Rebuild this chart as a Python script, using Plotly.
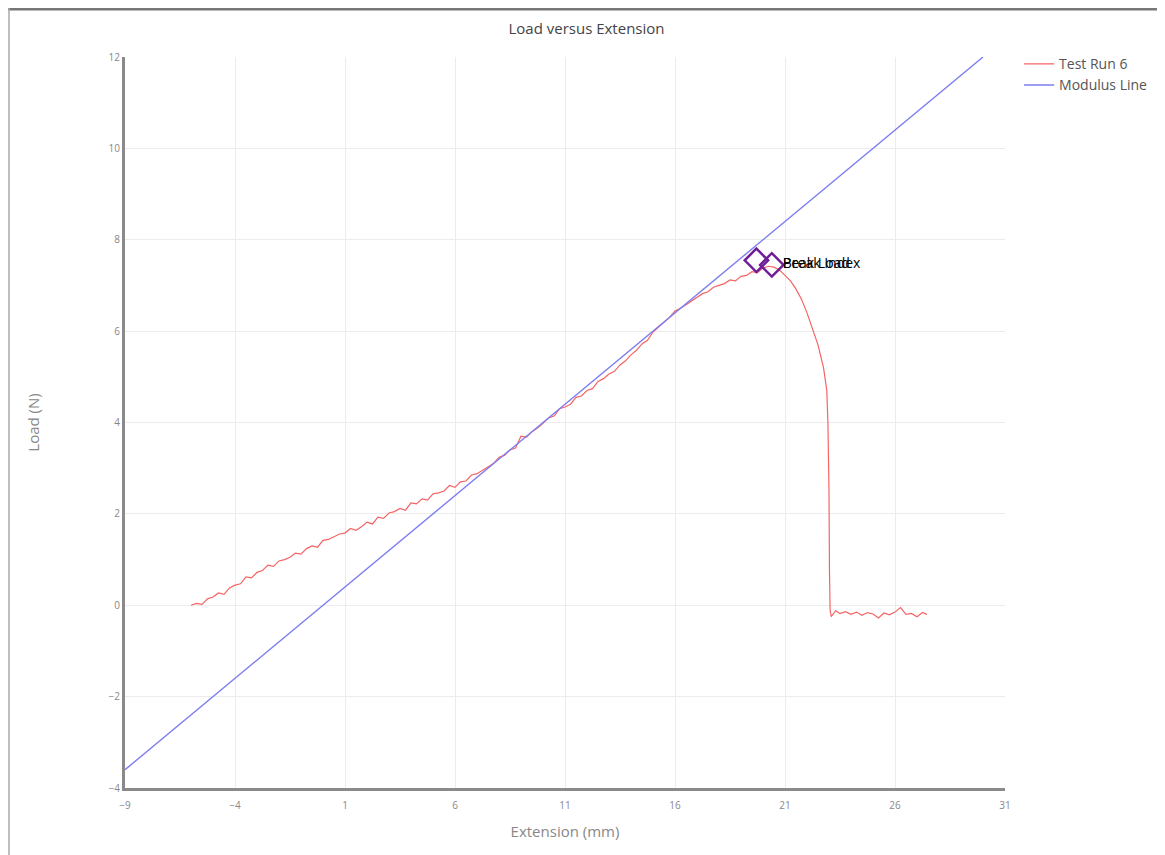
import plotly.graph_objects as go

# ---------------- data ----------------
run_x = [-6.0, -5.75, -5.5, -5.25, -5.0, -4.75, -4.5, -4.25, -4.0, -3.75, -3.5, -3.25,
         -3.0, -2.75, -2.5, -2.25, -2.0, -1.75, -1.5, -1.25, -1.0, -0.75, -0.5, -0.25,
         0.0, 0.25, 0.5, 0.75, 1.0, 1.25, 1.5, 1.75, 2.0, 2.25, 2.5, 2.75,
         3.0, 3.25, 3.5, 3.75, 4.0, 4.25, 4.5, 4.75, 5.0, 5.25, 5.5, 5.75,
         6.0, 6.25, 6.5, 6.75, 7.0, 7.25, 7.5, 7.75, 8.0, 8.25, 8.5, 8.75,
         9.0, 9.25, 9.5, 9.75, 10.0, 10.25, 10.5, 10.75, 11.0, 11.25, 11.5, 11.75,
         12.0, 12.25, 12.5, 12.75, 13.0, 13.25, 13.5, 13.75, 14.0, 14.25, 14.5, 14.75,
         15.0, 15.25, 15.5, 15.75, 16.0, 16.25, 16.5, 16.75, 17.0, 17.25, 17.5, 17.75,
         18.0, 18.25, 18.5, 18.75, 19.0, 19.25, 19.5, 19.75, 20.0, 20.25, 20.5, 20.75,
         21.0, 21.25, 21.5, 21.75, 22.0, 22.25, 22.5, 22.75, 22.9, 22.95, 23.0, 23.02,
         23.05, 23.1, 23.3, 23.5, 23.75, 24.0, 24.25, 24.5, 24.75, 25.0, 25.25, 25.5,
         25.75, 26.0, 26.25, 26.5, 26.75, 27.0, 27.25, 27.45]
run_y = [0.00, 0.04, 0.02, 0.14, 0.18, 0.27, 0.24, 0.38, 0.44, 0.47, 0.62, 0.60,
         0.72, 0.76, 0.88, 0.85, 0.97, 1.00, 1.05, 1.14, 1.12, 1.24, 1.30, 1.27,
         1.42, 1.44, 1.50, 1.56, 1.58, 1.68, 1.64, 1.72, 1.82, 1.78, 1.93, 1.90,
         2.02, 2.05, 2.12, 2.08, 2.24, 2.22, 2.33, 2.30, 2.44, 2.46, 2.50, 2.62,
         2.58, 2.70, 2.72, 2.85, 2.88, 2.96, 3.02, 3.10, 3.24, 3.28, 3.40, 3.44,
         3.70, 3.68, 3.80, 3.88, 3.98, 4.10, 4.14, 4.30, 4.34, 4.40, 4.55, 4.58,
         4.70, 4.74, 4.90, 4.96, 5.06, 5.12, 5.26, 5.35, 5.48, 5.58, 5.72, 5.80,
         5.98, 6.08, 6.18, 6.30, 6.44, 6.50, 6.58, 6.66, 6.74, 6.82, 6.86, 6.96,
         7.00, 7.04, 7.12, 7.10, 7.20, 7.22, 7.30, 7.28, 7.38, 7.42, 7.40, 7.34,
         7.22, 7.10, 6.92, 6.70, 6.40, 6.05, 5.70, 5.20, 4.70, 4.00, 2.50, 0.80,
         -0.10, -0.25, -0.12, -0.18, -0.14, -0.20, -0.15, -0.22, -0.16, -0.19, -0.28, -0.17,
         -0.21, -0.15, -0.05, -0.20, -0.18, -0.25, -0.16, -0.20]

modulus_x = [-9, 30]
modulus_y = [-3.6, 12.0]

point_x = [19.7, 20.4]
point_y = [7.55, 7.45]
point_labels = ["Peak Load", "Break Index"]

x_ticks = [-9, -4, 1, 6, 11, 16, 21, 26, 31]
y_ticks = [-4, -2, 0, 2, 4, 6, 8, 10, 12]

# ---------------- figure ----------------
fig = go.Figure()
fig.add_trace(go.Scatter(x=run_x, y=run_y, mode="lines", name="Test Run 6",
                         line=dict(color="rgb(245,100,100)", width=1.2)))
fig.add_trace(go.Scatter(x=modulus_x, y=modulus_y, mode="lines", name="Modulus Line",
                         line=dict(color="rgb(125,125,240)", width=1.4)))
fig.add_trace(go.Scatter(x=point_x, y=point_y, mode="markers", showlegend=False,
                         marker=dict(symbol="diamond-open", size=18,
                                     color="rgb(110,30,150)", line=dict(width=2.5))))
fig.add_trace(go.Scatter(x=[point_x[1]] * len(point_labels), y=[point_y[1]] * len(point_labels),
                         mode="markers+text", text=point_labels, textposition="middle right",
                         showlegend=False, marker=dict(size=16, opacity=0),
                         textfont=dict(color="#000", size=14, family="Open Sans")))

axis_common = dict(showgrid=True, gridcolor="#ececec", gridwidth=1,
                   zeroline=False, showline=True, linecolor="#8a8a8a", linewidth=3,
                   ticks="", tickfont=dict(size=10, color="#888"),
                   title_font=dict(size=15, color="#888"))

fig.update_layout(
    width=1157, height=847,
    paper_bgcolor="white", plot_bgcolor="white",
    font=dict(family="Open Sans", color="#555"),
    title=dict(text="Load versus Extension", x=0.5, xanchor="center", y=0.976,
               yanchor="middle", font=dict(size=15, color="#444")),
    margin=dict(l=117, r=160, t=49, b=67, autoexpand=False),
    legend=dict(x=1.016, y=1.012, xanchor="left", yanchor="top",
                font=dict(size=14, color="#555"), bgcolor="rgba(0,0,0,0)"),
    xaxis=dict(range=[-9, 31], tickvals=x_ticks, ticklabelstandoff=6,
               title=dict(text="Extension (mm)", standoff=16), **axis_common),
    yaxis=dict(range=[-4, 12], tickvals=y_ticks,
               title=dict(text="Load (N)", standoff=66), **axis_common),
    shapes=[
        dict(type="line", xref="paper", yref="paper", x0=-0.14, x1=1.19, y0=1.0657, y1=1.0657,
             line=dict(color="#777", width=3)),
        dict(type="line", xref="paper", yref="paper", x0=-0.1318, x1=-0.1318, y0=1.07, y1=-0.095,
             line=dict(color="#aaa", width=1.5)),
    ],
)

fig.write_html("out.html")
